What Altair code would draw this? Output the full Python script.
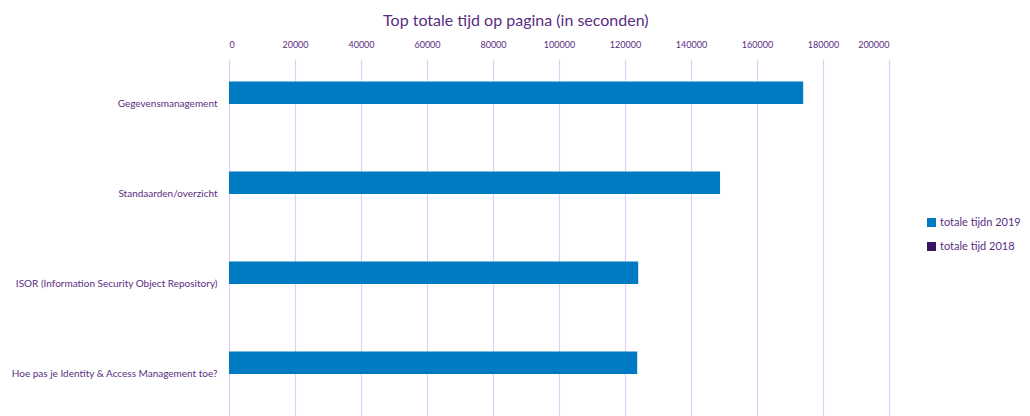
import altair as alt
import pandas as pd

categories = [
    "Gegevensmanagement",
    "Standaarden/overzicht",
    "ISOR (Information Security Object Repository)",
    "Hoe pas je Identity & Access Management toe?",
]
series_names = ["totale tijdn 2019", "totale tijd 2018"]
values_2019 = [174000, 148800, 124000, 123700]
values_2018 = [0, 0, 0, 0]
x_ticks = [0, 20000, 40000, 60000, 80000, 100000, 120000, 140000, 160000, 180000, 200000]

rows = []
for c, v in zip(categories, values_2019):
    rows.append({"cat": c, "series": series_names[0], "value": v})
for c, v in zip(categories, values_2018):
    rows.append({"cat": c, "series": series_names[1], "value": v})
df = pd.DataFrame(rows)

FONT = "Lato"
TXT = "#5A2D82"

chart = alt.Chart(df).mark_bar().encode(
    y=alt.Y("cat:N", sort=categories, title=None,
            scale=alt.Scale(paddingInner=0, paddingOuter=0, range=[0, 360]),
            axis=alt.Axis(domain=False, ticks=False, labelPadding=12,
                          minExtent=218, maxExtent=218, labelLimit=300,
                          labelFontSize=10, labelColor=TXT, labelFont=FONT)),
    yOffset=alt.YOffset("series:N", sort=series_names,
                        scale=alt.Scale(paddingInner=0, paddingOuter=1)),
    x=alt.X("value:Q", title=None,
            scale=alt.Scale(domain=[0, 200000], nice=False),
            axis=alt.Axis(orient="top", values=x_ticks, format="d", domain=False, ticks=False,
                          labelPadding=10, minExtent=22, maxExtent=22,
                          labelFontSize=9, labelColor=TXT, labelFont=FONT,
                          grid=True, gridColor="#E0CFF4", gridWidth=1.2)),
    color=alt.Color("series:N", sort=series_names,
                    scale=alt.Scale(domain=series_names, range=["#007AC3", "#3B1464"]),
                    legend=alt.Legend(title=None, orient="none", legendX=697, legendY=158,
                                      symbolType="square", symbolSize=81, symbolStrokeWidth=0,
                                      labelFontSize=11, labelColor=TXT, labelFont=FONT,
                                      rowPadding=12, labelOffset=3)),
).properties(
    width=660,
    height=349,
    padding={"top": 5, "bottom": 0, "left": 2, "right": 0},
    title=alt.Title("Top totale tijd op pagina (in seconden)", fontSize=16, font=FONT,
                    color=TXT, fontWeight="normal", offset=8, frame="bounds", anchor="middle"),
).configure_view(stroke=None)

chart.save("out.html", embed_options={"renderer": "svg", "actions": False})
